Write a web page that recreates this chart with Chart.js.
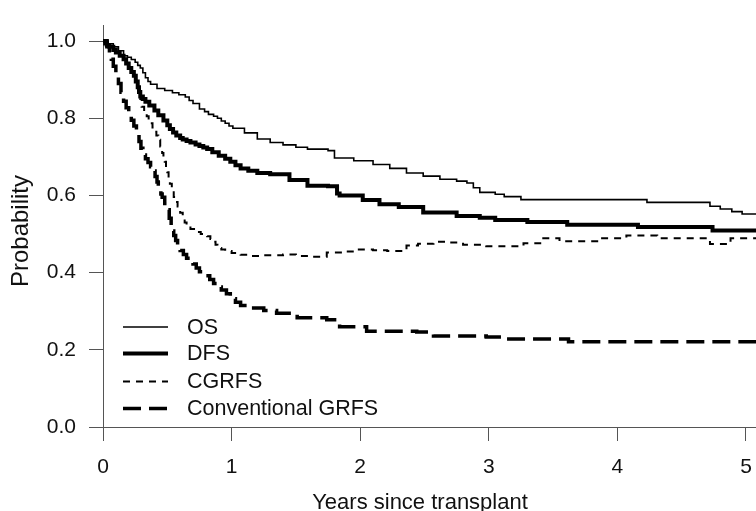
<!DOCTYPE html>
<html>
<head>
<meta charset="utf-8">
<script src="https://cdn.jsdelivr.net/npm/chart.js@4/dist/chart.umd.min.js"></script>
<style>
  html, body { margin: 0; padding: 0; background: #fff; overflow: hidden; }
  #wrap { width: 756px; height: 511px; position: relative; }
</style>
</head>
<body>
<div id="wrap"><canvas id="c"></canvas></div>
<script>
// ---- Data ----
const seriesNames = ["OS", "DFS", "CGRFS", "Conventional GRFS"];

const osYears = [0,0.04,0.08,0.12,0.16,0.19,0.22,0.25,0.27,0.29,0.31,0.33,0.35,0.37,0.42,0.48,0.54,0.59,0.64,0.67,0.70,0.75,0.79,0.82,0.86,0.89,0.92,0.95,0.98,1.01,1.10,1.20,1.30,1.40,1.50,1.59,1.75,1.80,1.95,2.10,2.23,2.36,2.49,2.62,2.75,2.83,2.88,2.93,3.05,3.12,3.25,4.23,4.72,4.80,4.89,4.97,5.40];
const osProb  = [1.0,0.993,0.985,0.975,0.962,0.958,0.952,0.945,0.937,0.930,0.918,0.905,0.895,0.888,0.877,0.872,0.866,0.861,0.855,0.846,0.838,0.824,0.817,0.810,0.805,0.800,0.793,0.787,0.780,0.774,0.762,0.746,0.737,0.731,0.725,0.720,0.716,0.697,0.690,0.680,0.670,0.658,0.650,0.642,0.637,0.632,0.620,0.608,0.603,0.597,0.589,0.582,0.572,0.565,0.558,0.552,0.552];

const dfsYears = [0,0.03,0.05,0.08,0.10,0.13,0.16,0.18,0.20,0.22,0.24,0.255,0.27,0.28,0.29,0.31,0.33,0.36,0.40,0.43,0.47,0.50,0.52,0.545,0.57,0.60,0.62,0.65,0.68,0.72,0.75,0.78,0.81,0.85,0.90,0.95,0.99,1.03,1.07,1.13,1.20,1.30,1.45,1.59,1.75,1.82,1.84,2.02,2.15,2.30,2.49,2.75,2.93,3.05,3.30,3.61,4.16,4.74,5.40];
const dfsProb  = [1.0,0.990,0.985,0.977,0.970,0.962,0.953,0.942,0.930,0.920,0.910,0.895,0.880,0.868,0.856,0.850,0.843,0.833,0.820,0.808,0.794,0.782,0.772,0.763,0.755,0.749,0.745,0.741,0.737,0.732,0.728,0.724,0.720,0.712,0.703,0.695,0.687,0.678,0.670,0.664,0.658,0.655,0.640,0.625,0.624,0.605,0.600,0.588,0.577,0.570,0.556,0.547,0.542,0.536,0.531,0.524,0.518,0.509,0.509];

const cgrfsYears = [0,0.03,0.05,0.08,0.10,0.13,0.16,0.18,0.20,0.22,0.24,0.255,0.27,0.28,0.29,0.30,0.32,0.34,0.355,0.37,0.385,0.40,0.415,0.43,0.445,0.46,0.47,0.48,0.49,0.50,0.51,0.52,0.535,0.55,0.565,0.58,0.60,0.62,0.635,0.65,0.68,0.72,0.76,0.81,0.835,0.86,0.875,0.89,0.92,0.95,1.00,1.07,1.14,1.25,1.40,1.50,1.61,1.74,1.85,1.97,2.10,2.21,2.36,2.45,2.57,2.70,2.80,2.98,3.12,3.27,3.40,3.55,3.86,4.07,4.31,4.72,4.88,5.40];
const cgrfsProb  = [1.0,0.990,0.985,0.977,0.970,0.962,0.953,0.942,0.930,0.920,0.910,0.895,0.880,0.866,0.850,0.830,0.817,0.805,0.796,0.787,0.776,0.765,0.755,0.744,0.727,0.710,0.698,0.687,0.673,0.660,0.645,0.630,0.613,0.596,0.583,0.571,0.555,0.540,0.530,0.521,0.513,0.505,0.500,0.494,0.487,0.480,0.472,0.464,0.460,0.456,0.451,0.446,0.443,0.445,0.447,0.443,0.441,0.452,0.455,0.460,0.458,0.456,0.470,0.475,0.480,0.478,0.472,0.468,0.468,0.476,0.489,0.481,0.489,0.496,0.489,0.474,0.489,0.489];

const grfsYears = [0,0.015,0.03,0.05,0.065,0.08,0.10,0.12,0.14,0.16,0.18,0.20,0.22,0.24,0.26,0.28,0.295,0.31,0.33,0.35,0.37,0.39,0.405,0.42,0.43,0.44,0.45,0.46,0.48,0.50,0.515,0.53,0.54,0.55,0.565,0.58,0.59,0.60,0.625,0.65,0.675,0.70,0.725,0.75,0.79,0.83,0.86,0.89,0.92,0.96,0.99,1.03,1.07,1.14,1.25,1.35,1.51,1.74,1.84,2.05,2.44,2.57,2.98,3.10,3.59,3.62,5.40];
const grfsProb  = [1.0,0.993,0.985,0.970,0.953,0.935,0.912,0.890,0.867,0.844,0.827,0.810,0.795,0.780,0.760,0.740,0.722,0.705,0.695,0.685,0.674,0.663,0.649,0.635,0.624,0.613,0.604,0.595,0.579,0.563,0.541,0.520,0.508,0.496,0.483,0.470,0.463,0.457,0.447,0.437,0.430,0.422,0.412,0.402,0.392,0.382,0.372,0.363,0.355,0.345,0.332,0.323,0.315,0.308,0.302,0.295,0.283,0.278,0.260,0.248,0.246,0.236,0.233,0.228,0.228,0.221,0.221];

const xTickValues = [0, 1, 2, 3, 4, 5];
const yTickValues = [0, 0.2, 0.4, 0.6, 0.8, 1.0];
const xTitle = "Years since transplant";
const yTitle = "Probability";

// ---- Build datasets ----
function pts(xs, ys) { return xs.map((x, i) => ({ x: x, y: ys[i] })); }

const styles = [
  { borderWidth: 1.6, borderDash: [] },
  { borderWidth: 4,   borderDash: [] },
  { borderWidth: 2,   borderDash: [7, 6] },
  { borderWidth: 3.5, borderDash: [18, 8] }
];
const allData = [pts(osYears, osProb), pts(dfsYears, dfsProb), pts(cgrfsYears, cgrfsProb), pts(grfsYears, grfsProb)];

const datasets = seriesNames.map((name, i) => ({
  label: name,
  data: allData[i],
  borderColor: '#000',
  backgroundColor: '#000',
  borderWidth: styles[i].borderWidth,
  borderDash: styles[i].borderDash,
  stepped: true,
  pointRadius: 0,
  fill: false
}));

const FONT = "'Liberation Sans', Arial, sans-serif";

// Legend inside the plot, lower left
const insideLegend = {
  id: 'insideLegend',
  afterDatasetsDraw(chart) {
    const ctx = chart.ctx;
    const rows = [327, 353.5, 381.5, 408.5];
    ctx.save();
    chart.data.datasets.forEach((ds, i) => {
      const y = rows[i];
      ctx.beginPath();
      ctx.setLineDash(ds.borderDash || []);
      ctx.lineWidth = ds.borderWidth;
      ctx.strokeStyle = ds.borderColor;
      ctx.lineCap = 'butt';
      ctx.moveTo(123, y);
      ctx.lineTo(168, y);
      ctx.stroke();
      ctx.setLineDash([]);
      ctx.fillStyle = '#111';
      ctx.font = "21.5px " + FONT;
      ctx.textAlign = 'left';
      ctx.textBaseline = 'middle';
      ctx.fillText(ds.label, 187, y + 1);
    });
    ctx.restore();
  }
};

// Axis titles placed like the reference
const axisTitles = {
  id: 'axisTitles',
  afterDraw(chart) {
    const ctx = chart.ctx;
    ctx.save();
    ctx.fillStyle = '#111';
    ctx.font = "22px " + FONT;
    ctx.textAlign = 'center';
    ctx.textBaseline = 'alphabetic';
    ctx.fillText(xTitle, 420, 509);
    ctx.translate(28, 231);
    ctx.rotate(-Math.PI / 2);
    ctx.font = "24px " + FONT;
    ctx.fillText(yTitle, 0, 0);
    ctx.restore();
  }
};

new Chart(document.getElementById('c'), {
  type: 'line',
  data: { datasets: datasets },
  plugins: [insideLegend, axisTitles],
  options: {
    responsive: true,
    maintainAspectRatio: false,
    animation: false,
    layout: { padding: { top: 8, right: 0, bottom: 0, left: 0 } },
    plugins: { legend: { display: false }, tooltip: { enabled: false } },
    scales: {
      x: {
        type: 'linear',
        min: 0,
        max: 5.078,
        afterBuildTicks(scale) { scale.ticks = xTickValues.map(v => ({ value: v })); },
        afterFit(scale) { scale.height = 84; scale.paddingRight = 0; scale.paddingLeft = 0; },
        grid: { drawOnChartArea: false, drawTicks: true, tickLength: 14, color: '#555', lineWidth: 1 },
        border: { display: true, color: '#555', width: 1 },
        ticks: { color: '#111', font: { family: FONT, size: 21 }, padding: 14, maxRotation: 0, callback: v => String(v) }
      },
      y: {
        type: 'linear',
        min: 0,
        max: 1.04,
        afterBuildTicks(scale) { scale.ticks = yTickValues.map(v => ({ value: v })); },
        afterFit(scale) { scale.width = 103; },
        grid: { drawOnChartArea: false, drawTicks: true, tickLength: 14, color: '#555', lineWidth: 1 },
        border: { display: true, color: '#555', width: 1 },
        ticks: { color: '#111', font: { family: FONT, size: 21 }, padding: 13, callback: v => Number(v).toFixed(1) }
      }
    }
  }
});
</script>
</body>
</html>
